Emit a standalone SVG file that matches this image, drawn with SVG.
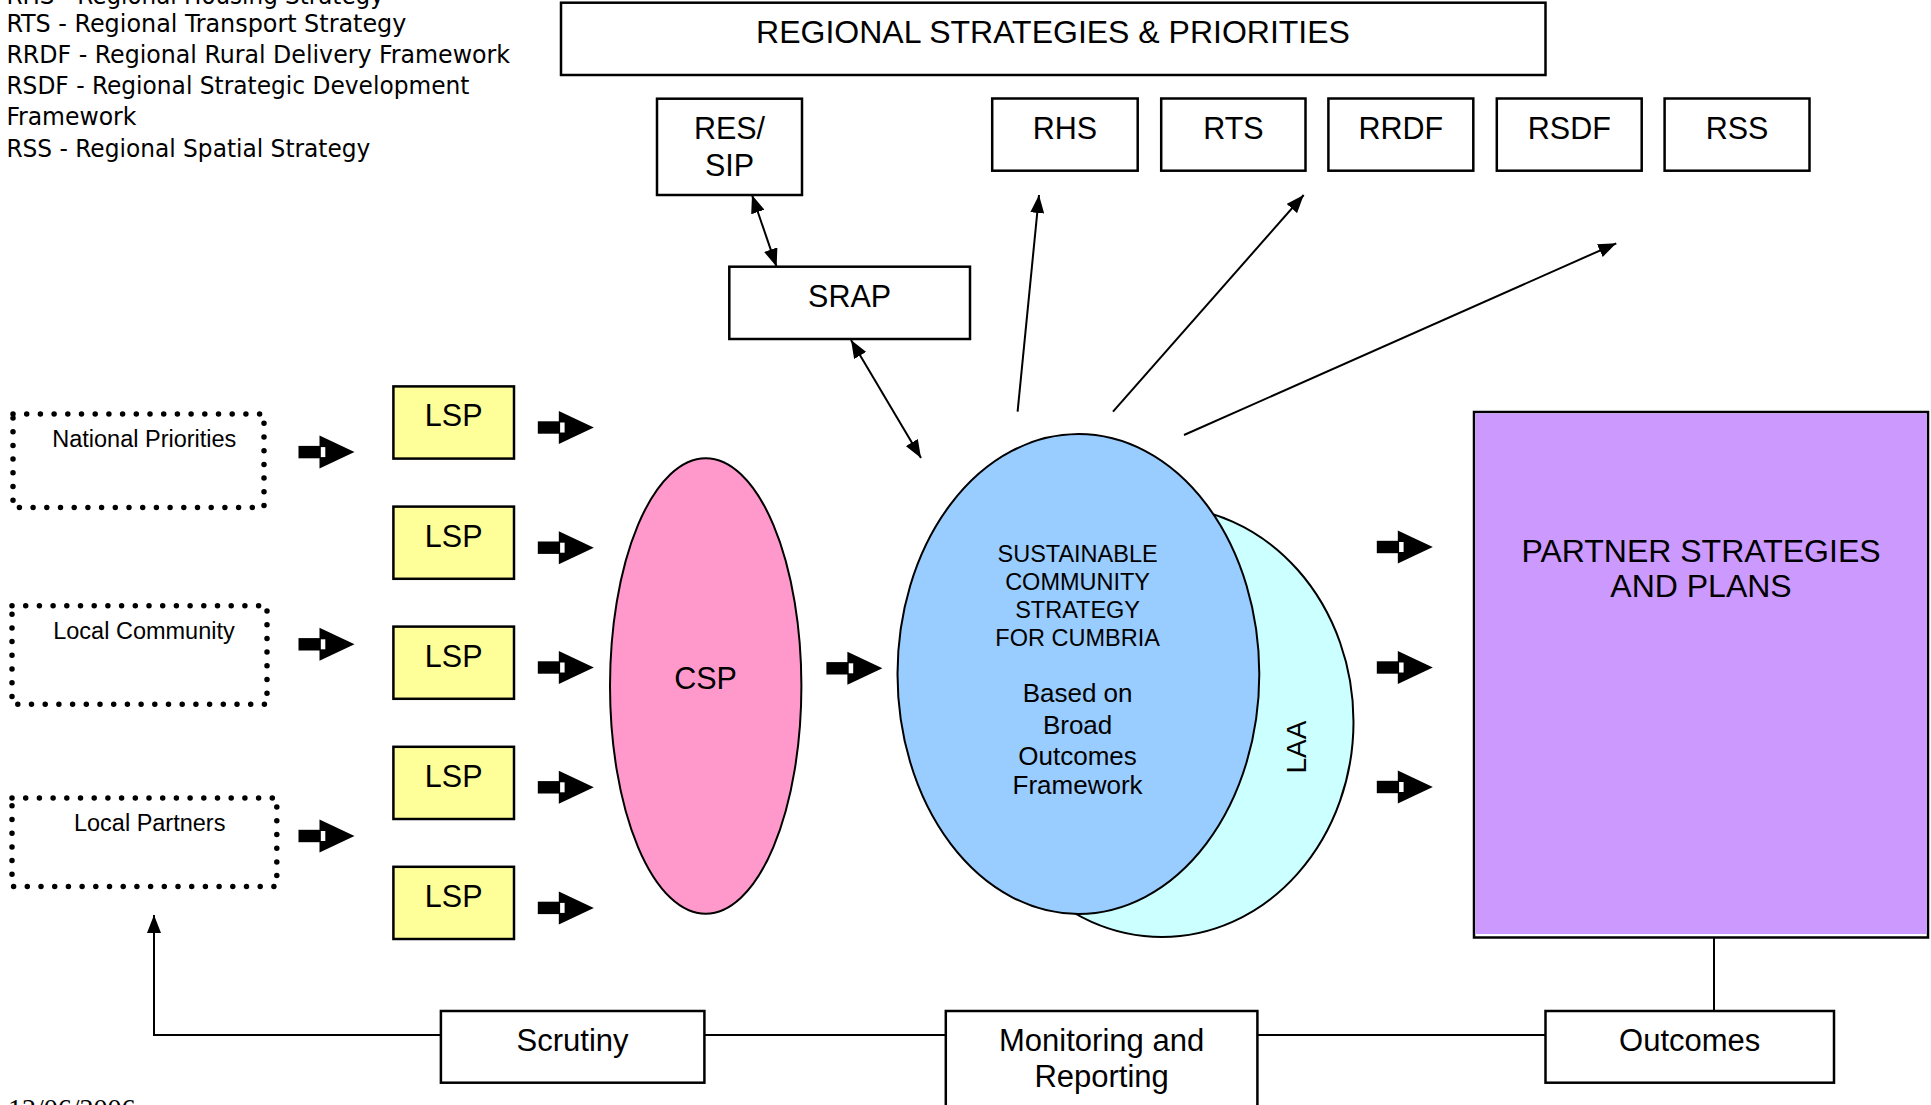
<svg xmlns="http://www.w3.org/2000/svg" xmlns:xlink="http://www.w3.org/1999/xlink" width="1931" height="1105" viewBox="0 0 1931 1105">
<style>
.box{fill:#fff;stroke:#000;stroke-width:2.5}
.lsp{fill:#FFFF99;stroke:#000;stroke-width:2.5}
.dot{fill:none;stroke:#000;stroke-width:5.5;stroke-dasharray:0 13.7;stroke-linecap:round}
.lbl{font-family:"Liberation Sans",Arial,sans-serif;fill:#000;text-anchor:middle}
.leg{font-family:"DejaVu Sans Condensed","DejaVu Sans",sans-serif;font-stretch:condensed;font-size:24px;fill:#000}
.conn{stroke:#000;stroke-width:2;fill:none}
</style>
<defs>
<marker id="ah" markerUnits="userSpaceOnUse" markerWidth="18" markerHeight="14" viewBox="0 0 18 14" refX="18" refY="7" orient="auto-start-reverse">
<path d="M0,0 L18,7 L0,14 Z" fill="#000"/>
</marker>
<g id="ba">
<rect x="0" y="-6.2" width="22" height="12.4" fill="#000"/>
<path d="M21,-16.5 L56,0 L21,16.5 Z" fill="#000"/>
<rect x="22.3" y="-5" width="4.5" height="10" fill="#fff"/>
</g>
</defs>
<rect width="1931" height="1105" fill="#fff"/>

<g id="legend">
<text class="leg" x="6.4" y="3.5" textLength="377.5" lengthAdjust="spacingAndGlyphs">RHS - Regional Housing Strategy</text>
<text class="leg" x="6.4" y="32.3" textLength="400" lengthAdjust="spacingAndGlyphs">RTS - Regional Transport Strategy</text>
<text class="leg" x="6.4" y="63.3" textLength="503.6" lengthAdjust="spacingAndGlyphs">RRDF - Regional Rural Delivery Framework</text>
<text class="leg" x="6.4" y="93.8" textLength="463" lengthAdjust="spacingAndGlyphs">RSDF - Regional Strategic Development</text>
<text class="leg" x="6.4" y="125" textLength="130" lengthAdjust="spacingAndGlyphs">Framework</text>
<text class="leg" x="6.4" y="156.7" textLength="364" lengthAdjust="spacingAndGlyphs">RSS - Regional Spatial Strategy</text>
</g>

<g id="date">
<text x="8" y="1118" style="font-family:'Liberation Serif','Times New Roman',serif;font-size:28px;fill:#000">12/06/2006</text>
</g>

<g id="connectors">
<line class="conn" x1="752" y1="195" x2="776.6" y2="266.7" marker-start="url(#ah)" marker-end="url(#ah)"/>
<line class="conn" x1="851" y1="340" x2="921" y2="458" marker-start="url(#ah)" marker-end="url(#ah)"/>
<line class="conn" x1="1017.6" y1="411.7" x2="1039" y2="195" marker-end="url(#ah)"/>
<line class="conn" x1="1113" y1="411.7" x2="1303.7" y2="195" marker-end="url(#ah)"/>
<line class="conn" x1="1184" y1="435" x2="1616.3" y2="243.3" marker-end="url(#ah)"/>
<path class="conn" d="M440.9,1035 L154,1035 L154,915" marker-end="url(#ah)"/>
<line class="conn" x1="704.4" y1="1035" x2="945.8" y2="1035"/>
<line class="conn" x1="1257.4" y1="1035" x2="1545.5" y2="1035"/>
<line class="conn" x1="1714" y1="938" x2="1714" y2="1011"/>
<use xlink:href="#ba" x="298.5" y="452.1"/>
<use xlink:href="#ba" x="298.5" y="644.3"/>
<use xlink:href="#ba" x="298.5" y="836"/>
<use xlink:href="#ba" x="537.8" y="427.5"/>
<use xlink:href="#ba" x="537.8" y="547.7"/>
<use xlink:href="#ba" x="537.8" y="667.5"/>
<use xlink:href="#ba" x="537.8" y="787.3"/>
<use xlink:href="#ba" x="537.8" y="907.9"/>
<use xlink:href="#ba" x="826.4" y="668.3"/>
<use xlink:href="#ba" x="1376.8" y="547"/>
<use xlink:href="#ba" x="1376.8" y="667.5"/>
<use xlink:href="#ba" x="1376.8" y="787"/>
</g>

<g id="regional">
<rect class="box" x="561" y="2.7" width="984.5" height="72.3"/>
<text class="lbl" x="1053" y="42.7" font-size="32">REGIONAL STRATEGIES &amp; PRIORITIES</text>
</g>
<g id="ressip">
<rect class="box" x="657" y="98.7" width="145" height="96.3"/>
<text class="lbl" x="729.5" y="139.3" font-size="30.5">RES/</text>
<text class="lbl" x="729.5" y="176" font-size="30.5">SIP</text>
</g>
<g id="rhs">
<rect class="box" x="992.2" y="98.5" width="145.5" height="72.2"/>
<text class="lbl" x="1065" y="139.3" font-size="30.5">RHS</text>
</g>
<g id="rts">
<rect class="box" x="1161.2" y="98.5" width="144.3" height="72.2"/>
<text class="lbl" x="1233.4" y="139.3" font-size="30.5">RTS</text>
</g>
<g id="rrdf">
<rect class="box" x="1328.4" y="98.5" width="144.9" height="72.2"/>
<text class="lbl" x="1400.9" y="139.3" font-size="30.5">RRDF</text>
</g>
<g id="rsdf">
<rect class="box" x="1496.8" y="98.5" width="144.9" height="72.2"/>
<text class="lbl" x="1569.3" y="139.3" font-size="30.5">RSDF</text>
</g>
<g id="rss">
<rect class="box" x="1664.6" y="98.5" width="144.9" height="72.2"/>
<text class="lbl" x="1737" y="139.3" font-size="30.5">RSS</text>
</g>
<g id="srap">
<rect class="box" x="729.3" y="266.7" width="240.7" height="72.3"/>
<text class="lbl" x="849.6" y="306.7" font-size="30.5">SRAP</text>
</g>

<g id="national">
<rect class="dot" x="13" y="414" width="251" height="93.5"/>
<text class="lbl" x="144.3" y="447" font-size="23.5">National Priorities</text>
</g>
<g id="community">
<rect class="dot" x="12" y="605.7" width="255" height="98.6"/>
<text class="lbl" x="144" y="639" font-size="23.5">Local Community</text>
</g>
<g id="partners">
<rect class="dot" x="12" y="797.9" width="264.8" height="88.5"/>
<text class="lbl" x="149.7" y="830.7" font-size="23.5">Local Partners</text>
</g>

<g id="lsp1"><rect class="lsp" x="393.4" y="386.4" width="120.6" height="72.2"/><text class="lbl" x="453.7" y="426.4" font-size="30.5">LSP</text></g>
<g id="lsp2"><rect class="lsp" x="393.4" y="506.6" width="120.6" height="72.2"/><text class="lbl" x="453.7" y="546.6" font-size="30.5">LSP</text></g>
<g id="lsp3"><rect class="lsp" x="393.4" y="626.6" width="120.6" height="72.2"/><text class="lbl" x="453.7" y="666.6" font-size="30.5">LSP</text></g>
<g id="lsp4"><rect class="lsp" x="393.4" y="746.8" width="120.6" height="72.2"/><text class="lbl" x="453.7" y="786.8" font-size="30.5">LSP</text></g>
<g id="lsp5"><rect class="lsp" x="393.4" y="866.8" width="120.6" height="72.2"/><text class="lbl" x="453.7" y="906.8" font-size="30.5">LSP</text></g>

<g id="csp">
<ellipse cx="705.7" cy="686" rx="95.7" ry="227.8" fill="#FF99CC" stroke="#000" stroke-width="2"/>
<text class="lbl" x="705.5" y="688.6" font-size="30.5">CSP</text>
</g>

<g id="laa">
<ellipse cx="1162" cy="721.7" rx="191.5" ry="215.2" fill="#CCFFFF" stroke="#000" stroke-width="2"/>
<text class="lbl" transform="translate(1306,747) rotate(-90)" x="0" y="0" font-size="28">LAA</text>
</g>

<g id="scs">
<ellipse cx="1078.4" cy="674" rx="180.9" ry="239.9" fill="#99CCFF" stroke="#000" stroke-width="2"/>
<text class="lbl" x="1077.6" y="561.9" font-size="23.5">SUSTAINABLE</text>
<text class="lbl" x="1077.6" y="589.6" font-size="23.5">COMMUNITY</text>
<text class="lbl" x="1077.6" y="617.6" font-size="23.5">STRATEGY</text>
<text class="lbl" x="1077.6" y="645.7" font-size="23.5">FOR CUMBRIA</text>
<text class="lbl" x="1077.6" y="702.1" font-size="26">Based on</text>
<text class="lbl" x="1077.6" y="733.6" font-size="26">Broad</text>
<text class="lbl" x="1077.6" y="764.6" font-size="26">Outcomes</text>
<text class="lbl" x="1077.6" y="794.3" font-size="26">Framework</text>
</g>

<g id="partner">
<rect x="1474" y="412" width="454" height="525.5" fill="#fff" stroke="#000" stroke-width="2.5"/>
<rect x="1475.3" y="413.3" width="451.4" height="520.7" fill="#CC99FF"/>
<text class="lbl" x="1701" y="561.7" font-size="32">PARTNER STRATEGIES</text>
<text class="lbl" x="1701" y="596.7" font-size="32">AND PLANS</text>
</g>

<g id="scrutiny">
<rect class="box" x="440.9" y="1011" width="263.5" height="71.7"/>
<text class="lbl" x="572.6" y="1050.7" font-size="31">Scrutiny</text>
</g>
<g id="monitoring">
<rect class="box" x="945.8" y="1011" width="311.6" height="120"/>
<text class="lbl" x="1101.6" y="1050.7" font-size="31">Monitoring and</text>
<text class="lbl" x="1101.6" y="1087.4" font-size="31">Reporting</text>
</g>
<g id="outcomes">
<rect class="box" x="1545.5" y="1011" width="288.5" height="71.7"/>
<text class="lbl" x="1689.7" y="1050.7" font-size="31">Outcomes</text>
</g>
</svg>
